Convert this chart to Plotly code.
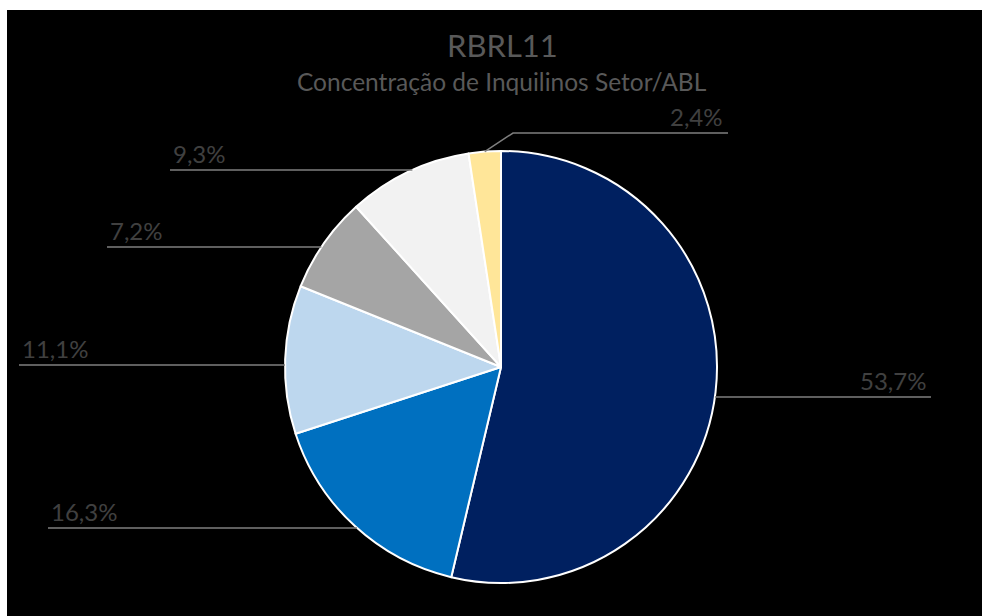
import math
import plotly.graph_objects as go

# ---- data ----
sectors = ["Setor A", "Setor B", "Setor C", "Setor D", "Setor E", "Setor F"]
shares = [53.7, 16.3, 11.1, 7.2, 9.3, 2.4]
colors = ["#002060", "#0070C0", "#BDD7EE", "#A5A5A5", "#F2F2F2", "#FFE699"]
title_text = "RBRL11"
subtitle_text = "Concentração de Inquilinos Setor/ABL"

# ---- layout (pixels) ----
W, H = 982, 616
CX, CY, R = 501, 367, 216
# per label: leader-line y, outer end x, side of text ("left"/"right"), bend x (None if straight)
label_layout = [
    (397, 931, "right", None),
    (528, 48, "left", None),
    (365, 19, "left", None),
    (247, 107, "left", None),
    (170, 170, "left", None),
    (133, 728, "right", 513),
]


def px(x):
    return x / W


def py(y):
    return 1 - y / H


fig = go.Figure()
fig.add_trace(go.Pie(
    labels=sectors,
    values=shares,
    sort=False,
    direction="clockwise",
    rotation=0,
    marker=dict(colors=colors, line=dict(color="white", width=2)),
    textinfo="none",
    hoverinfo="label+percent",
    showlegend=False,
    domain=dict(x=[px(CX - R), px(CX + R)], y=[py(CY + R), py(CY - R)]),
))

shapes = [dict(type="rect", xref="paper", yref="paper", x0=px(7), x1=1.0, y0=0.0, y1=py(10),
               fillcolor="black", line=dict(width=0), layer="below")]
annotations = []

total = sum(shares)
cum = 0.0
for v, (ly, xend, side, bend) in zip(shares, label_layout):
    mid = (cum + v / 2) / total * 2 * math.pi
    cum += v
    ex = CX + R * math.sin(mid)
    ey = CY - R * math.cos(mid)
    if bend is None:
        dy = ly - CY
        dx = math.sqrt(max(R * R - dy * dy, 0))
        xs = CX + dx if side == "right" else CX - dx
        path = f"M {px(xend)} {py(ly)} L {px(xs)} {py(ly)}"
    else:
        path = f"M {px(xend)} {py(ly)} L {px(bend)} {py(ly)} L {px(ex)} {py(ey)}"
    shapes.append(dict(type="path", xref="paper", yref="paper", path=path,
                       line=dict(color="#7F7F7F", width=1.5)))
    txt = f"{v:.1f}".replace(".", ",") + "%"
    if side == "right":
        ax, anchor = xend - 4, "right"
    else:
        ax, anchor = xend + 2, "left"
    annotations.append(dict(x=px(ax), y=py(ly - 1), xref="paper", yref="paper",
                            text=txt, showarrow=False, xanchor=anchor, yanchor="bottom",
                            borderpad=0,
                            font=dict(family="Lato", size=24, color="#404040")))

annotations.append(dict(x=px(502), y=py(45), xref="paper", yref="paper", text=title_text,
                        showarrow=False, xanchor="center", yanchor="middle",
                        font=dict(family="Lato", size=31, color="#595959")))
annotations.append(dict(x=px(502), y=py(82), xref="paper", yref="paper", text=subtitle_text,
                        showarrow=False, xanchor="center", yanchor="middle",
                        font=dict(family="Lato", size=24.5, color="#595959")))

fig.update_layout(
    width=W, height=H,
    margin=dict(l=0, r=0, t=0, b=0),
    paper_bgcolor="white",
    plot_bgcolor="white",
    shapes=shapes,
    annotations=annotations,
)

fig.write_html("out.html", config={"displayModeBar": False},
               post_script="document.body.style.margin='0';")
